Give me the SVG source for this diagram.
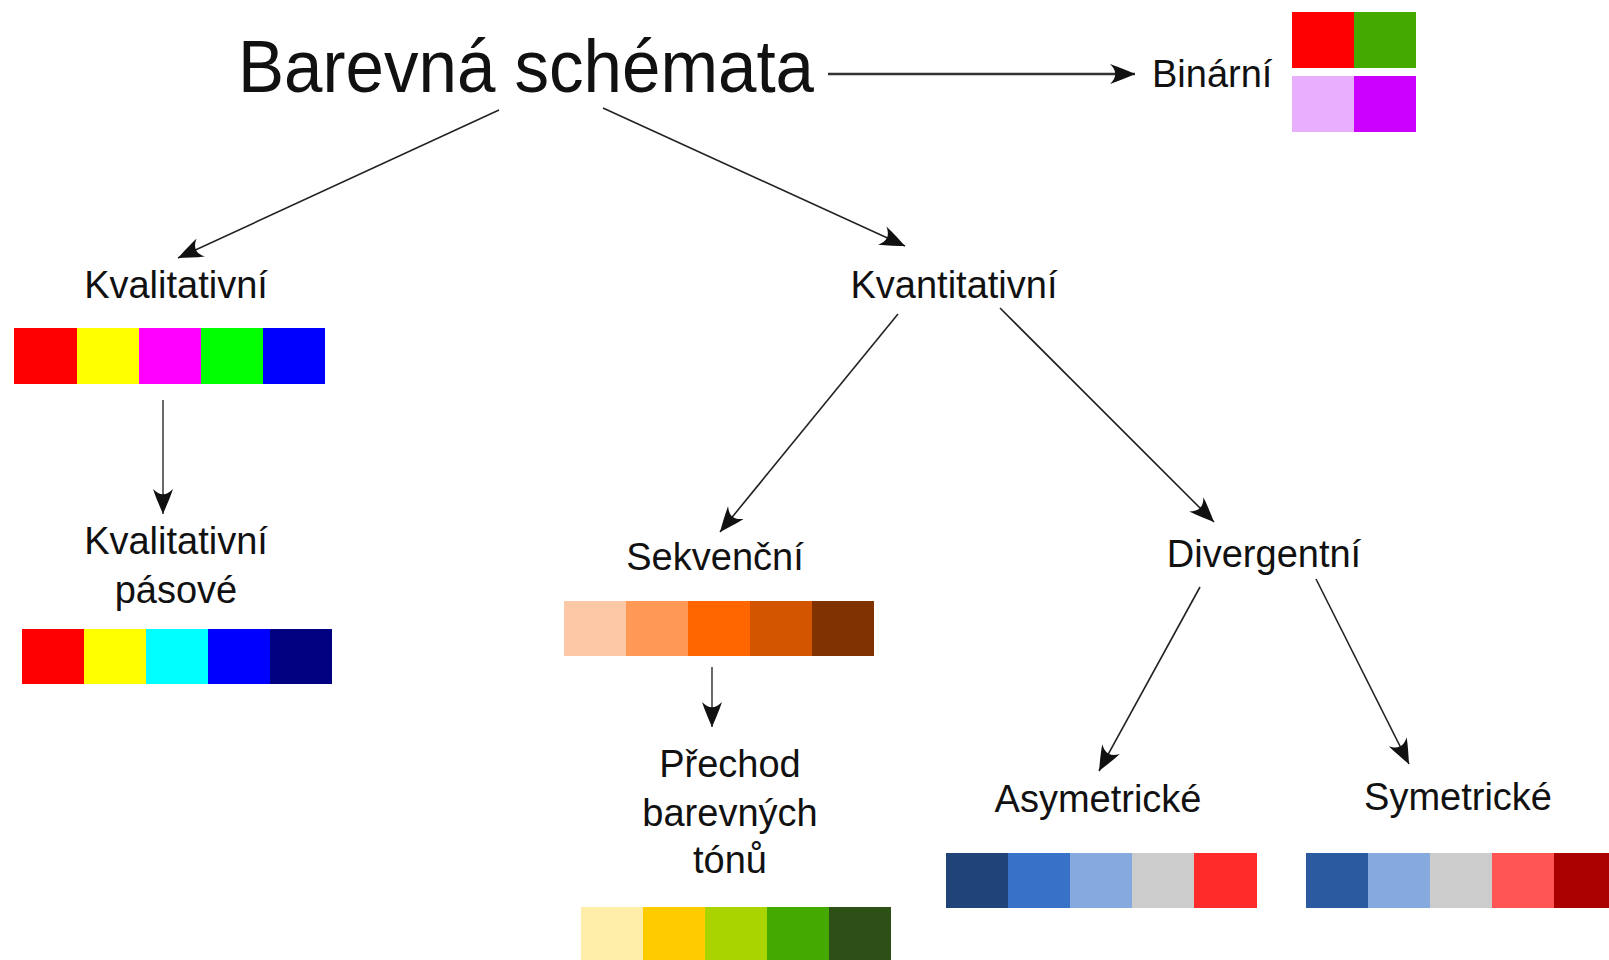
<svg xmlns="http://www.w3.org/2000/svg" width="1609" height="960" viewBox="0 0 1609 960">
<defs>
<style>
.lbl{font-family:"Liberation Sans",Arial,sans-serif;font-size:38px;fill:#111;text-anchor:middle}
.title{font-family:"Liberation Sans",Arial,sans-serif;font-size:74px;fill:#111}
.conn{stroke:#222;stroke-width:1.6;fill:none;marker-end:url(#arr)}
</style>
<marker id="arr" markerUnits="userSpaceOnUse" markerWidth="34" markerHeight="34" viewBox="-29 -17 34 34" refX="0" refY="0" orient="auto">
<path d="M0,0 C-7,-3 -16,-7 -25,-10 C-18,-3 -18,3 -25,10 C-16,7 -7,3 0,0Z" fill="#111"/>
</marker>
</defs>
<rect width="1609" height="960" fill="#fff"/>
<g id="connectors">
<line class="conn" x1="499" y1="110" x2="178" y2="258"/>
<line class="conn" x1="603" y1="108" x2="905" y2="246"/>
<line class="conn" x1="828" y1="74" x2="1135" y2="74" style="stroke-width:2.4;stroke:#333"/>
<line class="conn" x1="163" y1="400" x2="163" y2="514" style="stroke:#444"/>
<line class="conn" x1="898" y1="314" x2="720" y2="532"/>
<line class="conn" x1="1000" y1="308" x2="1214" y2="522"/>
<line class="conn" x1="712" y1="667" x2="712" y2="727" style="stroke:#444"/>
<line class="conn" x1="1200" y1="587" x2="1099" y2="771"/>
<line class="conn" x1="1316" y1="579" x2="1409" y2="764"/>
</g>
<g id="title">
<text class="title" x="238" y="92" textLength="576" lengthAdjust="spacingAndGlyphs">Barevná schémata</text>
</g>
<g id="binarni">
<text class="lbl" x="1152" y="87" style="text-anchor:start">Binární</text>
<rect x="1292" y="12" width="62" height="56" fill="#FF0000"/>
<rect x="1354" y="12" width="62" height="56" fill="#44AA00"/>
<rect x="1292" y="76" width="62" height="56" fill="#E9AFFF"/>
<rect x="1354" y="76" width="62" height="56" fill="#CC00FF"/>
</g>
<g id="kvalitativni">
<text class="lbl" x="176" y="298">Kvalitativní</text>
<rect x="14" y="328" width="63" height="56" fill="#FF0000"/>
<rect x="77" y="328" width="62" height="56" fill="#FFFF00"/>
<rect x="139" y="328" width="62" height="56" fill="#FF00FF"/>
<rect x="201" y="328" width="62" height="56" fill="#00FF00"/>
<rect x="263" y="328" width="62" height="56" fill="#0000FF"/>
</g>
<g id="kvalitativni-pasove">
<text class="lbl" x="176" y="554">Kvalitativní</text>
<text class="lbl" x="176" y="603">pásové</text>
<rect x="22" y="629" width="62" height="55" fill="#FF0000"/>
<rect x="84" y="629" width="62" height="55" fill="#FFFF00"/>
<rect x="146" y="629" width="62" height="55" fill="#00FFFF"/>
<rect x="208" y="629" width="62" height="55" fill="#0000FF"/>
<rect x="270" y="629" width="62" height="55" fill="#000080"/>
</g>
<g id="kvantitativni">
<text class="lbl" x="954" y="298">Kvantitativní</text>
</g>
<g id="sekvencni">
<text class="lbl" x="715" y="570">Sekvenční</text>
<rect x="564" y="601" width="62" height="55" fill="#FDC8A5"/>
<rect x="626" y="601" width="62" height="55" fill="#FF9955"/>
<rect x="688" y="601" width="62" height="55" fill="#FF6600"/>
<rect x="750" y="601" width="62" height="55" fill="#D45500"/>
<rect x="812" y="601" width="62" height="55" fill="#803300"/>
</g>
<g id="prechod">
<text class="lbl" x="730" y="777">Přechod</text>
<text class="lbl" x="730" y="826">barevných</text>
<text class="lbl" x="730" y="873">tónů</text>
<rect x="581" y="907" width="62" height="60" fill="#FFEEAA"/>
<rect x="643" y="907" width="62" height="60" fill="#FFCC00"/>
<rect x="705" y="907" width="62" height="60" fill="#AAD400"/>
<rect x="767" y="907" width="62" height="60" fill="#44AA00"/>
<rect x="829" y="907" width="62" height="60" fill="#2D5016"/>
</g>
<g id="divergentni">
<text class="lbl" x="1264" y="567">Divergentní</text>
</g>
<g id="asymetricke">
<text class="lbl" x="1098" y="812">Asymetrické</text>
<rect x="946" y="853" width="62" height="55" fill="#214478"/>
<rect x="1008" y="853" width="62" height="55" fill="#3771C8"/>
<rect x="1070" y="853" width="62" height="55" fill="#87AADE"/>
<rect x="1132" y="853" width="62" height="55" fill="#CCCCCC"/>
<rect x="1194" y="853" width="63" height="55" fill="#FF2A2A"/>
</g>
<g id="symetricke">
<text class="lbl" x="1458" y="810">Symetrické</text>
<rect x="1306" y="853" width="62" height="55" fill="#2C5AA0"/>
<rect x="1368" y="853" width="62" height="55" fill="#87AADE"/>
<rect x="1430" y="853" width="62" height="55" fill="#CCCCCC"/>
<rect x="1492" y="853" width="62" height="55" fill="#FF5555"/>
<rect x="1554" y="853" width="62" height="55" fill="#AA0000"/>
</g>
</svg>
